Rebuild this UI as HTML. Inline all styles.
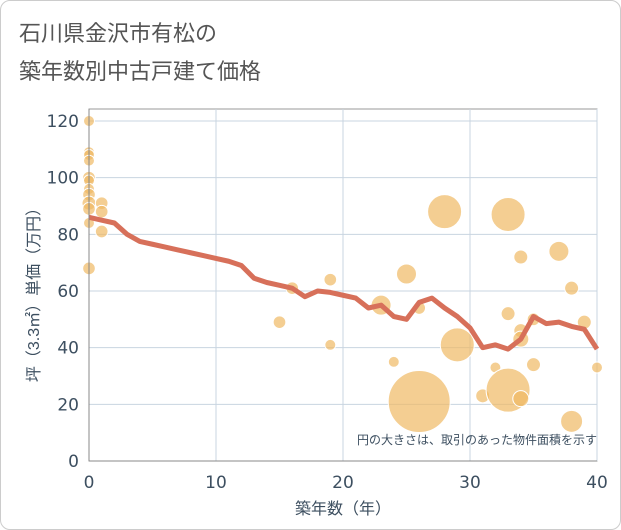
<!DOCTYPE html>
<html><head><meta charset="utf-8"><style>
body{margin:0;background:#fff;font-family:"Liberation Sans","Noto Sans CJK JP",sans-serif}
.wrap{position:relative;width:619px;height:528px;border:1px solid #ccc;border-radius:10px;overflow:hidden}
svg text{font-family:"Liberation Sans","Noto Sans CJK JP",sans-serif}
</style></head><body>
<div class="wrap">
<svg id="c" width="621" height="530">
<text x="18" y="40" font-size="22" fill="#555">石川県金沢市有松の</text>
<text x="18" y="78" font-size="22" fill="#555">築年数別中古戸建て価格</text>
<g id="grid"></g><g id="bub"></g><g id="ln"></g><g id="ax"></g>
<text x="596" y="443" font-size="12" fill="#3d4f60" text-anchor="end">円の大きさは、取引のあった物件面積を示す</text>
<text x="342" y="513" font-size="16" fill="#3d4f60" text-anchor="middle">築年数（年）</text>
<text transform="translate(38,290) rotate(-90)" font-size="16" fill="#3d4f60" text-anchor="middle">坪（3.3㎡）単価（万円）</text>
</svg></div>
<script>
const xTicks=[0,10,20,30,40];
const yTicks=[0,20,40,60,80,100,120];
const lineYears=[0,1,2,3,4,5,6,7,8,9,10,11,12,13,14,15,16,17,18,19,20,21,22,23,24,25,26,27,28,29,30,31,32,33,34,35,36,37,38,39,40];
const lineValues=[86,85,84,80,77.5,76.5,75.5,74.5,73.5,72.5,71.5,70.5,69,64.5,63,62,61,58,60,59.5,58.5,57.5,54,55,51,50,56,57.5,54,51,47,40,41,39.5,43,51,48.5,49,47.5,46.5,39.5];
const bubX=[0,0,0,0,0,0,0,0,0,0,0,0,1,1,1,15,16,19,19,23,24,25,26,26,28,29,31,32,33,33,33,34,34,34,34,35,35,37,38,38,39,40];
const bubY=[120,109,108,106,100,99,96,94,91,89,84,68,91,88,81,49,61,64,41,55,35,66,21,54,88,41,23,33,87,25,52,72,46,43,22,50,34,74,61,14,49,33];
const bubArea=[30,30,30,30,40,30,30,40,49,40,30,40,40,40,40,40,40,40,30,100,30,100,961,40,289,289,49,30,289,484,49,49,49,64,64,40,49,100,49,121,49,30];
const X0=88,X1=596,Y0=460,Y1=120;
const sx=v=>X0+(X1-X0)*v/40, sy=v=>Y0-(Y0-Y1)*v/120;
const NS='http://www.w3.org/2000/svg';
function mk(t,p,a){const e=document.createElementNS(NS,t);for(const k in a)e.setAttribute(k,a[k]);p.appendChild(e);return e;}
const g=document.getElementById('grid'),ax=document.getElementById('ax');
mk('rect',g,{x:X0,y:108,width:X1-X0,height:Y0-108,fill:'none',stroke:'#999'});
xTicks.forEach(t=>{const l=mk('line',g,{x1:sx(t),x2:sx(t),y1:108,y2:Y0,stroke:'#c8d4e0'});


const tx=mk('text',ax,{x:sx(t),y:487,'font-size':17,fill:'#3d4f60','text-anchor':'middle',style:'font-family:"DejaVu Sans",sans-serif'});tx.textContent=t;

});
yTicks.forEach(t=>{const l=mk('line',g,{x1:X0,x2:X1,y1:sy(t),y2:sy(t),stroke:'#c8d4e0'});


const tx=mk('text',ax,{x:78,y:sy(t)+6,'font-size':17,fill:'#3d4f60','text-anchor':'end',style:'font-family:"DejaVu Sans",sans-serif'});tx.textContent=t;

});
mk('line',ax,{x1:X0,x2:X0,y1:108,y2:Y0,stroke:'#888'});
mk('line',ax,{x1:X0,x2:X1,y1:Y0,y2:Y0,stroke:'#888'});
const b=document.getElementById('bub');
bubX.forEach((x,i)=>{const c=mk('circle',b,{cx:sx(x),cy:sy(bubY[i]),r:Math.sqrt(bubArea[i]),fill:'rgba(240,185,100,0.7)',stroke:'#fff','stroke-width':1});

});
const p=mk('polyline',document.getElementById('ln'),{points:lineYears.map((x,i)=>sx(x)+','+sy(lineValues[i])).join(' '),fill:'none',stroke:'#d7705a','stroke-width':5,'stroke-linejoin':'round'});


</script>
</body></html>
